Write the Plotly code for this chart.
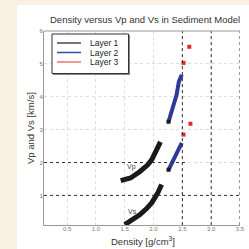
import plotly.graph_objects as go

# Layer 1 (black)
l1_vp_rho = [1.43, 1.60, 1.76, 1.90, 1.97, 2.05, 2.12]
l1_vp = [1.45, 1.53, 1.72, 1.93, 2.09, 2.36, 2.63]
l1_vs_rho = [1.50, 1.62, 1.76, 1.88, 1.97, 2.07, 2.14]
l1_vs = [0.11, 0.25, 0.41, 0.60, 0.78, 1.06, 1.33]
# Layer 2 (blue)
l2_vp_rho = [2.26, 2.33, 2.40, 2.44, 2.49]
l2_vp = [3.24, 3.67, 4.06, 4.46, 4.67]
l2_vs_rho = [2.26, 2.33, 2.40, 2.45, 2.49]
l2_vs = [1.78, 2.02, 2.25, 2.45, 2.60]
# Layer 3 (red)
l3_rho = [2.52, 2.62, 2.52, 2.64]
l3_v = [5.03, 5.52, 2.85, 3.18]

x_ticks = [0.5, 1.0, 1.5, 2.0, 2.5, 3.0, 3.5]
y_ticks = [1, 2, 3, 4, 5, 6]
x_refs = [2.5, 3.0, 3.5]
y_refs = [1, 2]
legend_names = ["Layer 1", "Layer 2", "Layer 3"]
legend_colors = ["#777777", "#3b4aa8", "#f07070"]

fig = go.Figure()
fig.add_trace(go.Scatter(x=l1_vp_rho, y=l1_vp, mode="lines", line=dict(color="#1a1a1a", width=5),
                         showlegend=False))
fig.add_trace(go.Scatter(x=l1_vs_rho, y=l1_vs, mode="lines", line=dict(color="#1a1a1a", width=5),
                         showlegend=False))
fig.add_trace(go.Scatter(x=l2_vp_rho, y=l2_vp, mode="lines", line=dict(color="#2e3a94", width=4),
                         showlegend=False))
fig.add_trace(go.Scatter(x=l2_vs_rho, y=l2_vs, mode="lines", line=dict(color="#2e3a94", width=4),
                         showlegend=False))
fig.add_trace(go.Scatter(x=[l2_vp_rho[0], l2_vs_rho[0]], y=[l2_vp[0], l2_vs[0]], mode="markers",
                         marker=dict(symbol="square", color="#1a1a1a", size=4), showlegend=False))
fig.add_trace(go.Scatter(x=l3_rho, y=l3_v, mode="markers",
                         marker=dict(symbol="square", color="#e8262a", size=4), showlegend=False))

shapes = [dict(type="rect", xref="paper", yref="paper", x0=-0.138, x1=1.1, y0=-0.2, y1=1.134,
               fillcolor="white", line=dict(width=0), layer="below")]
for xv in x_refs:
    shapes.append(dict(type="line", xref="x", yref="paper", x0=xv, x1=xv, y0=0, y1=1,
                       line=dict(color="#333333", width=1, dash="dot")))
shapes.append(dict(type="line", xref="paper", yref="y", x0=0, x1=1, y0=y_refs[0], y1=y_refs[0],
                   line=dict(color="#333333", width=1, dash="dot")))
shapes.append(dict(type="line", xref="paper", yref="y", x0=0, x1=0.73, y0=y_refs[1], y1=y_refs[1],
                   line=dict(color="#333333", width=1, dash="dot")))
shapes.append(dict(type="line", xref="paper", yref="paper", x0=0, x1=1, y0=1, y1=1,
                   line=dict(color="#999999", width=1)))

# manual legend box (pixel-mapped into paper coords)
W, H = 196.0, 194.0
def px(x):
    return (x - 44) / W
def py(y):
    return (225 - y) / H
shapes.append(dict(type="rect", xref="paper", yref="paper", x0=px(53), x1=px(130), y0=py(75), y1=py(35),
                   fillcolor="#888888", line=dict(width=0)))
shapes.append(dict(type="rect", xref="paper", yref="paper", x0=px(52), x1=px(128.5), y0=py(73.5), y1=py(34),
                   fillcolor="white", line=dict(color="#333333", width=1)))
annotations = []
for i, (nm, col) in enumerate(zip(legend_names, legend_colors)):
    yy = 43 + i * 9.5
    shapes.append(dict(type="line", xref="paper", yref="paper", x0=px(57), x1=px(81), y0=py(yy), y1=py(yy),
                       line=dict(color=col, width=2 if i == 0 else 1.5)))
    annotations.append(dict(text=nm, xref="paper", yref="paper", x=px(88), y=py(yy), xanchor="left",
                            yanchor="middle", showarrow=False, font=dict(size=8.5, color="#222222")))

annotations += [
    dict(text="Vp", x=1.62, y=1.86, xref="x", yref="y", showarrow=False, font=dict(size=7, color="#444444")),
    dict(text="Vs", x=1.64, y=0.52, xref="x", yref="y", showarrow=False, font=dict(size=7, color="#444444")),
    dict(text="Density [g/cm<sup>3</sup>]", xref="paper", yref="paper", x=px(143), y=py(241),
         xanchor="center", yanchor="middle", showarrow=False, font=dict(size=9.5, color="#333333")),
    dict(text="Vp and Vs [km/s]", xref="paper", yref="paper", x=px(30), y=py(128), textangle=-90,
         xanchor="center", yanchor="middle", showarrow=False, font=dict(size=9.5, color="#333333")),
    dict(text="Density versus Vp and Vs in Sediment Model", xref="paper", yref="paper", x=px(145),
         y=py(20), xanchor="center", yanchor="middle", showarrow=False, font=dict(size=9.5, color="#333333")),
]

fig.update_layout(
    width=249, height=249,
    margin=dict(l=44, r=9, t=31, b=24),
    paper_bgcolor="#faf1e4", plot_bgcolor="white",
    font=dict(family="Liberation Sans, Arial, sans-serif", color="#333333"),
    showlegend=False,
    shapes=shapes,
    annotations=annotations,
)
fig.update_xaxes(range=[0.1, 3.5], tickvals=x_ticks, ticktext=[f"{v:.1f}" for v in x_ticks],
                 tickfont=dict(size=6, color="#777777"), showgrid=True, gridcolor="#dddddd",
                 griddash="dot", gridwidth=1, showline=True, linecolor="#999999", linewidth=1,
                 zeroline=False, ticks="", ticklabelstandoff=-2, automargin=False)
fig.update_yaxes(range=[0.1, 6], tickvals=y_ticks, tickfont=dict(size=6, color="#777777"),
                 showgrid=True, gridcolor="#dddddd", griddash="dot", gridwidth=1,
                 showline=True, linecolor="#999999", linewidth=1, zeroline=False, ticks="",
                 ticklabelstandoff=-1, automargin=False)
fig.write_html("out.html", config={"displayModeBar": False},
               post_script="document.body.style.margin='0px';document.body.style.overflow='hidden';")
